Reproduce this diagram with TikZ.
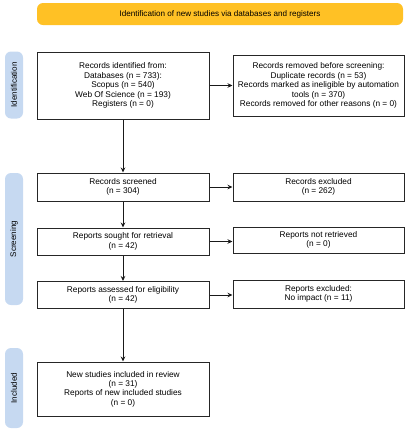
\documentclass[tikz,border=0pt]{standalone}
\usepackage{fontspec}
\setmainfont{Liberation Sans}
\usetikzlibrary{arrows.meta}
\definecolor{banner}{HTML}{FFC125}
\definecolor{side}{HTML}{C6D9F1}
\begin{document}
\begin{tikzpicture}[x=1pt,y=-1pt,
  box/.style={draw=black!85,line width=1pt,fill=white,align=center,inner sep=0pt,font=\fontsize{8.3}{9.4}\selectfont},
  sidebar/.style={fill=side,rounded corners=6pt,draw=none},
  sidetext/.style={rotate=90,font=\fontsize{8.1}{9}\selectfont},
  conn/.style={draw=black!90,line width=1pt,-{Stealth[length=5pt,width=4.5pt]}}]
\useasboundingbox (0,0) rectangle (406,432);
% banner
\node[fill=banner,rounded corners=6pt,minimum width=366pt,minimum height=22pt,inner sep=0pt,font=\fontsize{8.1}{9}\selectfont] (ban) at (220,14) {Identification of new studies via databases and registers};
% side bars
\node[sidebar,minimum width=18pt,minimum height=67pt] (sid) at (14,85) {};
\node[sidetext] (sidt) at (sid) {Identification};
\node[sidebar,minimum width=18pt,minimum height=132pt] (sis) at (14,239) {};
\node[sidetext] (sist) at (sis) {Screening};
\node[sidebar,minimum width=18pt,minimum height=80pt] (sii) at (14,388) {};
\node[sidetext] (siit) at (sii) {Included};
% left boxes
\node[box,minimum width=172pt,minimum height=67pt] (idf) at (123,85.5) {Records identified from:\\Databases (n = 733):\\Scopus (n = 540)\\Web Of Science (n = 193)\\Registers (n = 0)};
\node[box,minimum width=171pt,minimum height=61pt] (rem) at (318.5,85.5) {Records removed before screening:\\Duplicate records (n = 53)\\Records marked as ineligible by automation\\tools (n = 370)\\Records removed for other reasons (n = 0)};
\node[box,minimum width=172pt,minimum height=28pt] (scr) at (123,187) {Records screened\\(n = 304)};
\node[box,minimum width=171pt,minimum height=28pt] (exc) at (318.5,187) {Records excluded\\(n = 262)};
\node[box,minimum width=172pt,minimum height=27pt] (sou) at (123,241.5) {Reports sought for retrieval\\(n = 42)};
\node[box,minimum width=171pt,minimum height=26pt] (nre) at (318.5,240) {Reports not retrieved\\(n = 0)};
\node[box,minimum width=172pt,minimum height=27pt] (ass) at (123,295) {Reports assessed for eligibility\\(n = 42)};
\node[box,minimum width=171pt,minimum height=28pt] (rex) at (318.5,294) {Reports excluded:\\No impact (n = 11)};
\node[box,minimum width=172pt,minimum height=54pt] (inc) at (123,389) {New studies included in review\\(n = 31)\\Reports of new included studies\\(n = 0)};
% connectors
\draw[conn] (idf) -- (scr);
\draw[conn] (scr) -- (sou);
\draw[conn] (sou) -- (ass);
\draw[conn] (ass) -- (inc);
\draw[conn] (idf.east) -- (rem.west);
\draw[conn] (scr.east) -- (exc.west);
\draw[conn] (sou.east) -- (sou.east -| nre.west);
\draw[conn] (ass.east) -- (ass.east -| rex.west);
\end{tikzpicture}
\end{document}
